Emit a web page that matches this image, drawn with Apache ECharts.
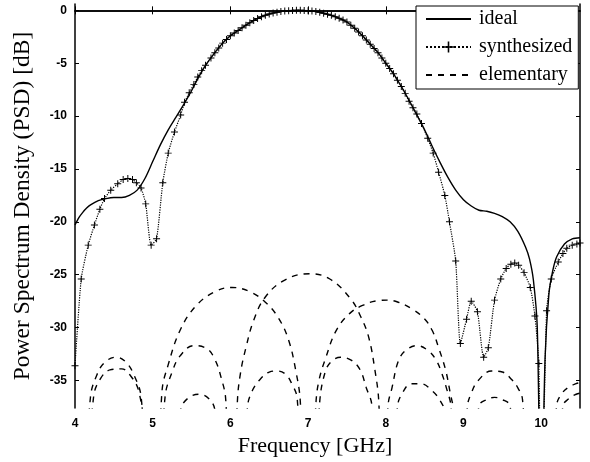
<!DOCTYPE html>
<html><head><meta charset="utf-8">
<script src="https://cdn.jsdelivr.net/npm/echarts@6/dist/echarts.min.js"></script>
<style>html,body{margin:0;padding:0;background:#fff}#c{width:590px;height:462px}</style>
</head><body><div id="c"></div>
<script>
const xTicks = [4, 5, 6, 7, 8, 9, 10];
const yTicks = [0, -5, -10, -15, -20, -25, -30, -35];

const idealPts = [
 [4.0,-20.3],[4.05,-19.6],[4.1,-19.1],[4.15,-18.7],[4.2,-18.4],[4.3,-18.0],[4.4,-17.8],[4.5,-17.7],
 [4.6,-17.7],[4.7,-17.5],[4.8,-17.0],[4.9,-15.9],[5.0,-14.3],[5.1,-12.7],[5.2,-11.3],[5.3,-10.1],
 [5.4,-8.9],[5.5,-7.6],[5.6,-6.2],[5.7,-5.0],[5.8,-4.0],[5.9,-3.1],[6.0,-2.4],[6.1,-1.9],[6.2,-1.4],
 [6.3,-0.95],[6.4,-0.6],[6.5,-0.35],[6.6,-0.18],[6.7,-0.07],[6.8,-0.01],[6.9,0],[7.0,-0.03],
 [7.1,-0.12],[7.2,-0.27],[7.3,-0.47],[7.4,-0.75],[7.5,-1.1],[7.6,-1.7],[7.7,-2.4],[7.8,-3.2],
 [7.9,-4.0],[8.0,-5.0],[8.1,-6.0],[8.2,-7.2],[8.3,-8.5],[8.4,-9.9],[8.5,-11.3],[8.6,-12.9],
 [8.7,-14.4],[8.8,-15.8],[8.9,-17.0],[9.0,-17.9],[9.1,-18.5],[9.2,-18.9],[9.3,-19.0],[9.4,-19.2],
 [9.5,-19.5],[9.6,-20.0],[9.7,-20.9],[9.8,-22.4],[9.85,-23.5],[9.9,-25.5],[9.95,-30.0],[10.0,-50],
 [10.05,-33],[10.1,-26.8],[10.15,-24.6],[10.2,-23.3],[10.3,-22.1],[10.4,-21.6],[10.5,-21.5]
];

const synthPts = [
 [4.0,-33.6],[4.08,-25.4],[4.17,-22.2],[4.25,-20.3],[4.32,-18.8],[4.38,-17.8],[4.46,-17.0],
 [4.55,-16.4],[4.62,-16.0],[4.68,-15.9],[4.74,-16.0],[4.79,-16.3],[4.85,-16.8],[4.91,-18.3],
 [4.98,-22.2],[5.05,-21.6],[5.13,-16.3],[5.2,-13.5],[5.28,-11.5],[5.36,-9.9],[5.41,-8.7],
 [5.47,-7.8],[5.53,-7.0],[5.58,-6.3],[5.63,-5.7],[5.68,-5.2],[5.75,-4.5],[5.8,-4.0],[5.85,-3.55],
 [5.9,-3.1],[5.95,-2.75],[6.0,-2.4],[6.05,-2.15],[6.1,-1.9],[6.15,-1.65],[6.2,-1.4],[6.25,-1.17],
 [6.3,-0.95],[6.35,-0.77],[6.4,-0.6],[6.45,-0.47],[6.5,-0.35],[6.55,-0.26],[6.6,-0.18],[6.65,-0.12],
 [6.7,-0.07],[6.75,-0.03],[6.8,-0.01],[6.85,0],[6.9,0],[6.95,-0.01],[7.0,-0.03],[7.05,-0.07],
 [7.1,-0.12],[7.15,-0.19],[7.2,-0.27],[7.25,-0.36],[7.3,-0.47],[7.35,-0.6],[7.4,-0.75],[7.45,-0.92],
 [7.5,-1.1],[7.55,-1.4],[7.6,-1.7],[7.65,-2.05],[7.7,-2.4],[7.75,-2.8],[7.8,-3.2],[7.85,-3.6],
 [7.9,-4.0],[7.95,-4.5],[8.0,-5.0],[8.05,-5.5],[8.1,-6.0],[8.15,-6.6],[8.2,-7.2],[8.25,-7.85],
 [8.3,-8.6],[8.35,-9.2],[8.4,-9.8],[8.46,-10.7],[8.54,-12.1],[8.61,-13.5],[8.68,-15.3],[8.76,-17.5],
 [8.82,-20.0],[8.9,-23.7],[8.96,-31.5],[9.04,-29.2],[9.1,-27.5],[9.18,-28.5],[9.26,-32.8],
 [9.32,-31.9],[9.4,-27.4],[9.48,-25.4],[9.55,-24.4],[9.61,-24.0],[9.66,-23.9],[9.71,-24.1],
 [9.78,-24.8],[9.86,-26.2],[9.92,-28.9],[9.97,-33.4],[10.0,-50],[10.07,-28.4],[10.13,-25.4],
 [10.22,-23.8],[10.28,-23.0],[10.33,-22.5],[10.4,-22.2],[10.46,-22.1],[10.5,-22.0]
];

const elementaryArcs = [
 [[4.13,-45],[4.2,-36.5],[4.28,-34.5],[4.38,-33.3],[4.53,-32.8],[4.66,-33.3],[4.76,-34.5],[4.85,-36.5],[4.92,-45]],
 [[4.16,-45],[4.24,-36.5],[4.33,-34.8],[4.45,-34.0],[4.6,-33.9],[4.72,-34.6],[4.82,-36.0],[4.9,-40],[4.94,-45]],
 [[5.08,-45],[5.12,-36],[5.2,-33.5],[5.35,-30.3],[5.55,-28],[5.8,-26.6],[6.02,-26.2],[6.25,-26.6],[6.45,-27.6],[6.62,-29.1],[6.75,-31.2],[6.84,-34],[6.9,-37],[6.93,-45]],
 [[5.1,-45],[5.16,-36.5],[5.25,-34.2],[5.35,-32.7],[5.53,-31.7],[5.7,-32],[5.8,-33],[5.88,-34.7],[5.94,-36.8],[5.97,-45]],
 [[5.3,-45],[5.36,-37.8],[5.45,-36.7],[5.6,-36.3],[5.72,-36.7],[5.8,-37.8],[5.85,-45]],
 [[6.06,-45],[6.09,-37],[6.13,-34.3],[6.2,-31.9],[6.3,-29.3],[6.45,-27.1],[6.7,-25.5],[7.02,-24.9],[7.28,-25.4],[7.55,-27.3],[7.68,-29],[7.78,-30.9],[7.86,-34],[7.91,-37],[7.94,-45]],
 [[6.18,-45],[6.22,-37.5],[6.28,-36],[6.37,-35],[6.5,-34.2],[6.6,-34.1],[6.71,-34.4],[6.79,-35.3],[6.86,-36.7],[6.9,-45]],
 [[7.06,-45],[7.1,-37.3],[7.14,-35],[7.23,-32.8],[7.36,-30.3],[7.53,-28.7],[7.7,-27.9],[7.9,-27.45],[8.02,-27.4],[8.16,-27.6],[8.33,-28.2],[8.49,-29.1],[8.6,-30.3],[8.68,-31.9],[8.77,-34],[8.83,-36.2],[8.87,-37.8],[8.9,-45]],
 [[7.1,-45],[7.15,-37],[7.22,-34.2],[7.3,-33.2],[7.42,-32.8],[7.56,-33.1],[7.67,-34],[7.75,-35.7],[7.82,-37.3],[7.86,-45]],
 [[7.98,-45],[8.03,-37.3],[8.08,-35.7],[8.16,-33.2],[8.25,-32.2],[8.4,-31.7],[8.55,-32.2],[8.65,-33.1],[8.72,-34.3],[8.78,-35.7],[8.84,-37.5],[8.88,-45]],
 [[8.1,-45],[8.15,-37.5],[8.22,-36.1],[8.33,-35.3],[8.45,-35.3],[8.6,-36],[8.7,-36.9],[8.76,-38],[8.8,-45]],
 [[9.0,-45],[9.05,-37.5],[9.1,-36.2],[9.19,-35],[9.36,-34.1],[9.5,-34.2],[9.62,-34.9],[9.7,-35.7],[9.76,-36.8],[9.82,-45]],
 [[9.12,-45],[9.2,-37.4],[9.3,-36.8],[9.4,-36.6],[9.5,-36.8],[9.6,-37.4],[9.66,-45]],
 [[10.14,-45],[10.2,-37.3],[10.27,-36.2],[10.36,-35.6],[10.45,-35.3],[10.5,-35.2]],
 [[10.22,-45],[10.28,-37.4],[10.36,-36.7],[10.45,-36.3],[10.5,-36.2]]
];

const plusPath = 'path://M0,4.3H10V5.7H0Z M4.3,0H5.7V10H4.3Z';
const tickLabel = {fontFamily:'Liberation Sans', fontWeight:'bold', fontSize:12, color:'#000'};
const hiddenSymbol = {color:'rgba(0,0,0,0)', borderWidth:0, opacity:0};

const series = [
 {name:'ideal', type:'line', data:idealPts, smooth:0.3, symbol:'none', itemStyle:hiddenSymbol,
  lineStyle:{color:'#000', width:1.4, type:'solid'}, z:5},
 {name:'synthesized', type:'line', data:synthPts, smooth:0.2, symbol:plusPath, symbolSize:7,
  itemStyle:{color:'#000'}, lineStyle:{color:'#000', width:1.2, type:'dotted'}, z:6}
];
elementaryArcs.forEach(a => series.push({
 name:'elementary', type:'line', data:a, smooth:0.4, symbol:'none', itemStyle:hiddenSymbol,
 lineStyle:{color:'#000', width:1.4, type:[6,6]}, z:3
}));

const chart = echarts.init(document.getElementById('c'), null, {renderer:'canvas'});
chart.setOption({
 backgroundColor:'#fff',
 animation:false,
 grid:{left:75, right:10, top:4, bottom:54},
 legend:{
  data:[
   {name:'ideal', itemStyle:{opacity:0}},
   {name:'synthesized'},
   {name:'elementary', itemStyle:{opacity:0}}
  ],
  orient:'vertical', left:416, top:6,
  itemWidth:45, itemHeight:14, itemGap:8,
  padding:[3,6,4,9],
  borderColor:'#000', borderWidth:1, backgroundColor:'#fff',
  textStyle:{fontFamily:'Liberation Serif', fontSize:20, color:'#000', lineHeight:20, padding:[0,0,0,3]}
 },
 xAxis:[
  {type:'value', min:4, max:10.5, position:'bottom',
   name:'Frequency [GHz]', nameLocation:'middle', nameGap:27,
   nameTextStyle:{fontFamily:'Liberation Serif', fontSize:22, color:'#000', padding:[0,25,0,0]},
   axisLine:{lineStyle:{color:'#000', width:1.5}},
   axisTick:{inside:true, length:4, customValues:xTicks, lineStyle:{color:'#000'}},
   axisLabel:Object.assign({margin:10, customValues:xTicks}, tickLabel),
   splitLine:{show:false}},
  {type:'value', min:4, max:10.5, position:'top',
   axisLine:{lineStyle:{color:'#000', width:1.5}},
   axisTick:{inside:true, length:4, customValues:xTicks, lineStyle:{color:'#000'}},
   axisLabel:{show:false}, splitLine:{show:false}}
 ],
 yAxis:[
  {type:'value', min:-37.6, max:0.6, position:'left',
   name:'Power Spectrum Density (PSD) [dB]', nameLocation:'middle', nameGap:40,
   nameTextStyle:{fontFamily:'Liberation Serif', fontSize:23.5, color:'#000'},
   axisLine:{lineStyle:{color:'#000', width:1.5}},
   axisTick:{inside:true, length:4, customValues:yTicks, lineStyle:{color:'#000'}},
   axisLabel:Object.assign({margin:8, customValues:yTicks}, tickLabel),
   splitLine:{show:false}},
  {type:'value', min:-37.6, max:0.6, position:'right',
   axisLine:{lineStyle:{color:'#000', width:1.5}},
   axisTick:{inside:true, length:4, customValues:yTicks, lineStyle:{color:'#000'}},
   axisLabel:{show:false}, splitLine:{show:false}}
 ],
 series:series
});
</script>
</body></html>
